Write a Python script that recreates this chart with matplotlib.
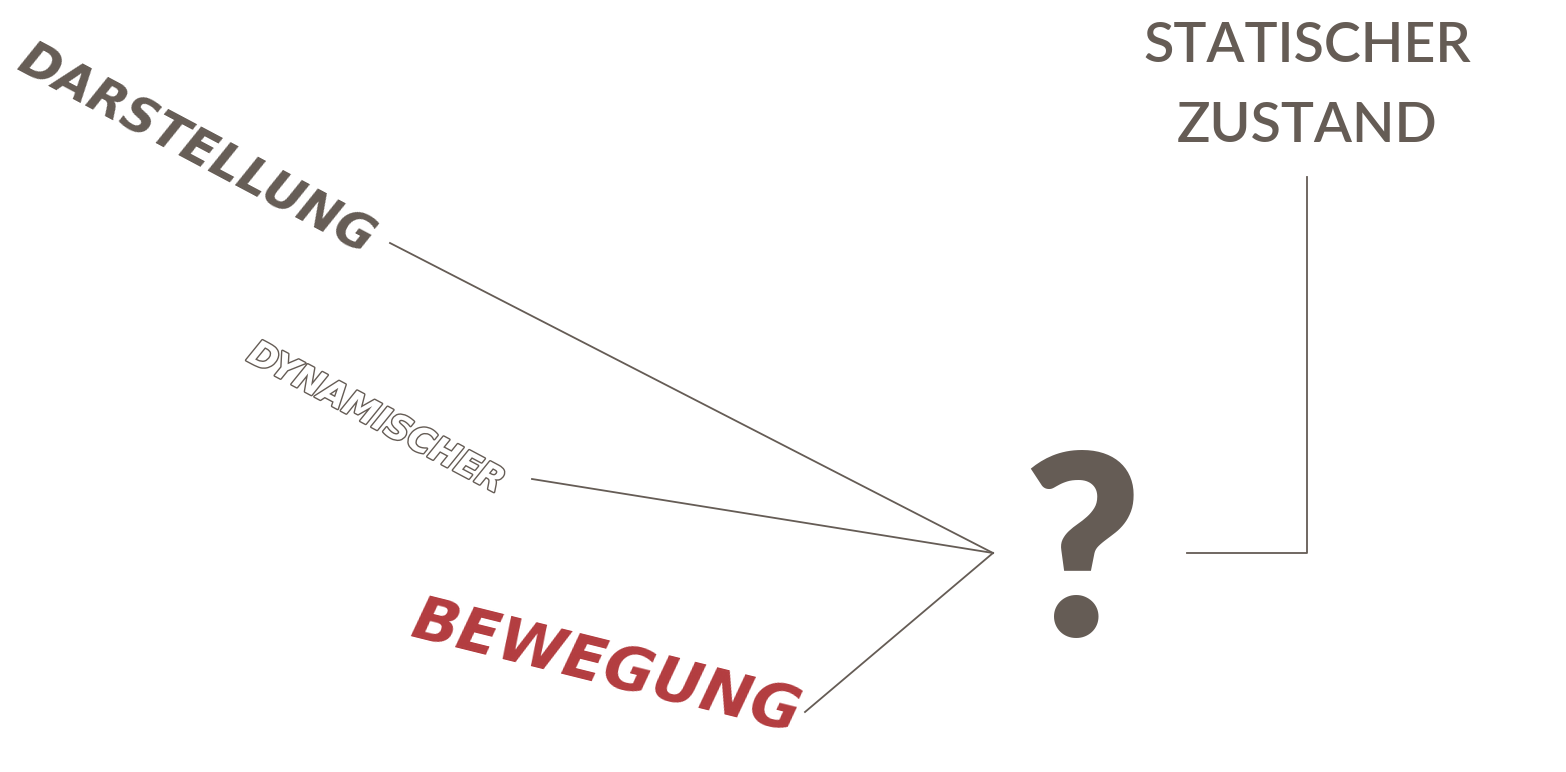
import matplotlib
matplotlib.use("Agg")
import matplotlib.pyplot as plt
import matplotlib.patheffects as pe

# --- text labels and where they sit (pixel coords, y down) ---
labels = ["DARSTELLUNG", "DYNAMISCHER", "BEWEGUNG", "?", "STATISCHER\nZUSTAND"]
label_xy = [(197, 150), (376, 418), (606, 668), (1082, 563), (1307, 86)]
label_rot = [-28, -28, -14, 0, 0]
label_size = [35, 25, 44, 182, 40]

# connector lines
hub = (993, 553)
spoke_starts = [(390, 243), (532, 479), (805, 712)]
bracket_x = [1187, 1307, 1307]
bracket_y = [553, 553, 177]

dark = "#655c55"
red = "#b33c3f"

fig = plt.figure(figsize=(15.66, 7.72), dpi=100)
ax = fig.add_axes([0, 0, 1, 1])
ax.set_xlim(0, 1566)
ax.set_ylim(772, 0)
ax.axis("off")

for sx, sy in spoke_starts:
    ax.plot([sx, hub[0]], [sy, hub[1]], color=dark, lw=1.3)
ax.plot(bracket_x, bracket_y, color=dark, lw=1.3)

# DARSTELLUNG
ax.text(*label_xy[0], labels[0], rotation=label_rot[0], fontsize=label_size[0],
        fontweight="heavy", style="italic", color=dark, ha="center", va="center",
        family="DejaVu Sans", rotation_mode="anchor")
# DYNAMISCHER (outlined)
ax.text(*label_xy[1], labels[1], rotation=label_rot[1], fontsize=label_size[1],
        fontweight="bold", style="italic", color="white", ha="center", va="center",
        family="DejaVu Sans", rotation_mode="anchor",
        path_effects=[pe.withStroke(linewidth=2, foreground=dark)])
# BEWEGUNG
ax.text(*label_xy[2], labels[2], rotation=label_rot[2], fontsize=label_size[2],
        fontweight="heavy", style="italic", color=red, ha="center", va="center",
        family="DejaVu Sans", rotation_mode="anchor")
# question mark
ax.text(*label_xy[3], labels[3], fontsize=label_size[3], fontweight="heavy",
        color=dark, ha="center", va="center", family="Lato")
# STATISCHER ZUSTAND
ax.text(*label_xy[4], labels[4], fontsize=label_size[4], color=dark,
        fontweight="semibold", ha="center", va="center", family="Lato",
        linespacing=1.75)

fig.savefig("out.png", dpi=100)
